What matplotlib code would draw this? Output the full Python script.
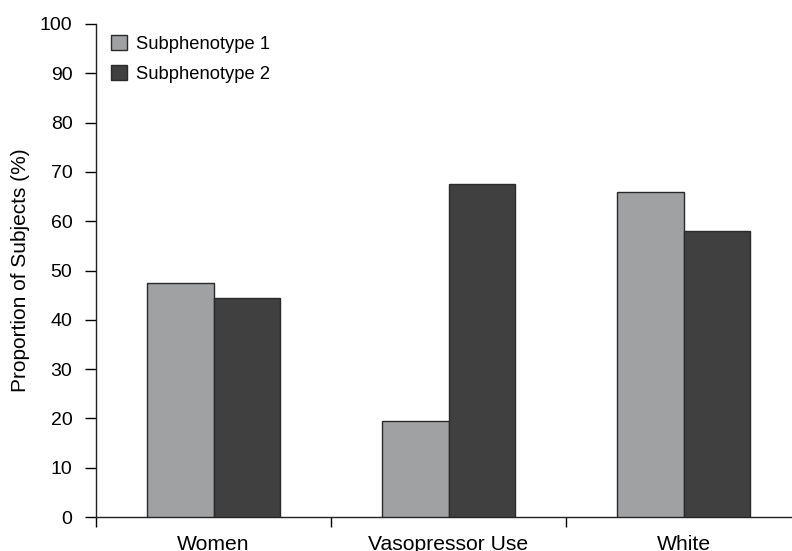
import matplotlib
matplotlib.use("Agg")
import matplotlib.pyplot as plt
import numpy as np

categories = ["Women", "Vasopressor Use", "White"]
subphenotype1 = [47.5, 19.5, 66.0]
subphenotype2 = [44.4, 67.5, 58.0]
series_labels = ["Subphenotype 1", "Subphenotype 2"]
yticks = list(range(0, 101, 10))

plt.rcParams['font.family'] = ['Liberation Sans', 'DejaVu Sans']

W, H = 792, 551
fig = plt.figure(figsize=(W / 100, H / 100), dpi=100)
left_px, right_px, bottom_px, top_px = 96, 792, 517, 24
ax = fig.add_axes([left_px / W, 1 - bottom_px / H,
                   (right_px - left_px) / W, (bottom_px - top_px) / H])

x = np.arange(len(categories))
bw = 0.283
c1, c2 = "#a0a1a3", "#404040"
ax.bar(x - bw / 2, subphenotype1, bw, color=c1, edgecolor="#2a2a2a", linewidth=1.0,
       label=series_labels[0], zorder=3)
ax.bar(x + bw / 2, subphenotype2, bw, color=c2, edgecolor="#2a2a2a", linewidth=1.0,
       label=series_labels[1], zorder=3)

cat_px = (565 - 330)
ax.set_xlim(-0.5, -0.5 + (right_px - left_px) / cat_px)
ax.set_ylim(0, 100)
ax.set_yticks(yticks)
ax.tick_params(axis='y', direction='out', length=8, width=1, labelsize=14, pad=9)

ax.set_xticks(x)
ax.set_xticklabels(categories)
ax.set_xticks(np.arange(-0.5, len(categories) - 0.5, 1.0), minor=True)
ax.tick_params(axis='x', which='major', length=0, labelsize=15.2, pad=13)
ax.tick_params(axis='x', which='minor', direction='out', length=7, width=1)

for s in ['top', 'right']:
    ax.spines[s].set_visible(False)
for s in ['left', 'bottom']:
    ax.spines[s].set_linewidth(1.0)
    ax.spines[s].set_color("#222222")

ax.set_ylabel("Proportion of Subjects (%)", fontsize=15)
ax.yaxis.set_label_coords(-0.095, 0.5)

leg = ax.legend(loc='upper left', bbox_to_anchor=(0.022, 0.978), frameon=False,
                fontsize=13.2, handlelength=0.87, handleheight=0.9, handletextpad=0.5,
                labelspacing=0.65, borderpad=0, borderaxespad=0)

fig.savefig("out.png", dpi=100)
